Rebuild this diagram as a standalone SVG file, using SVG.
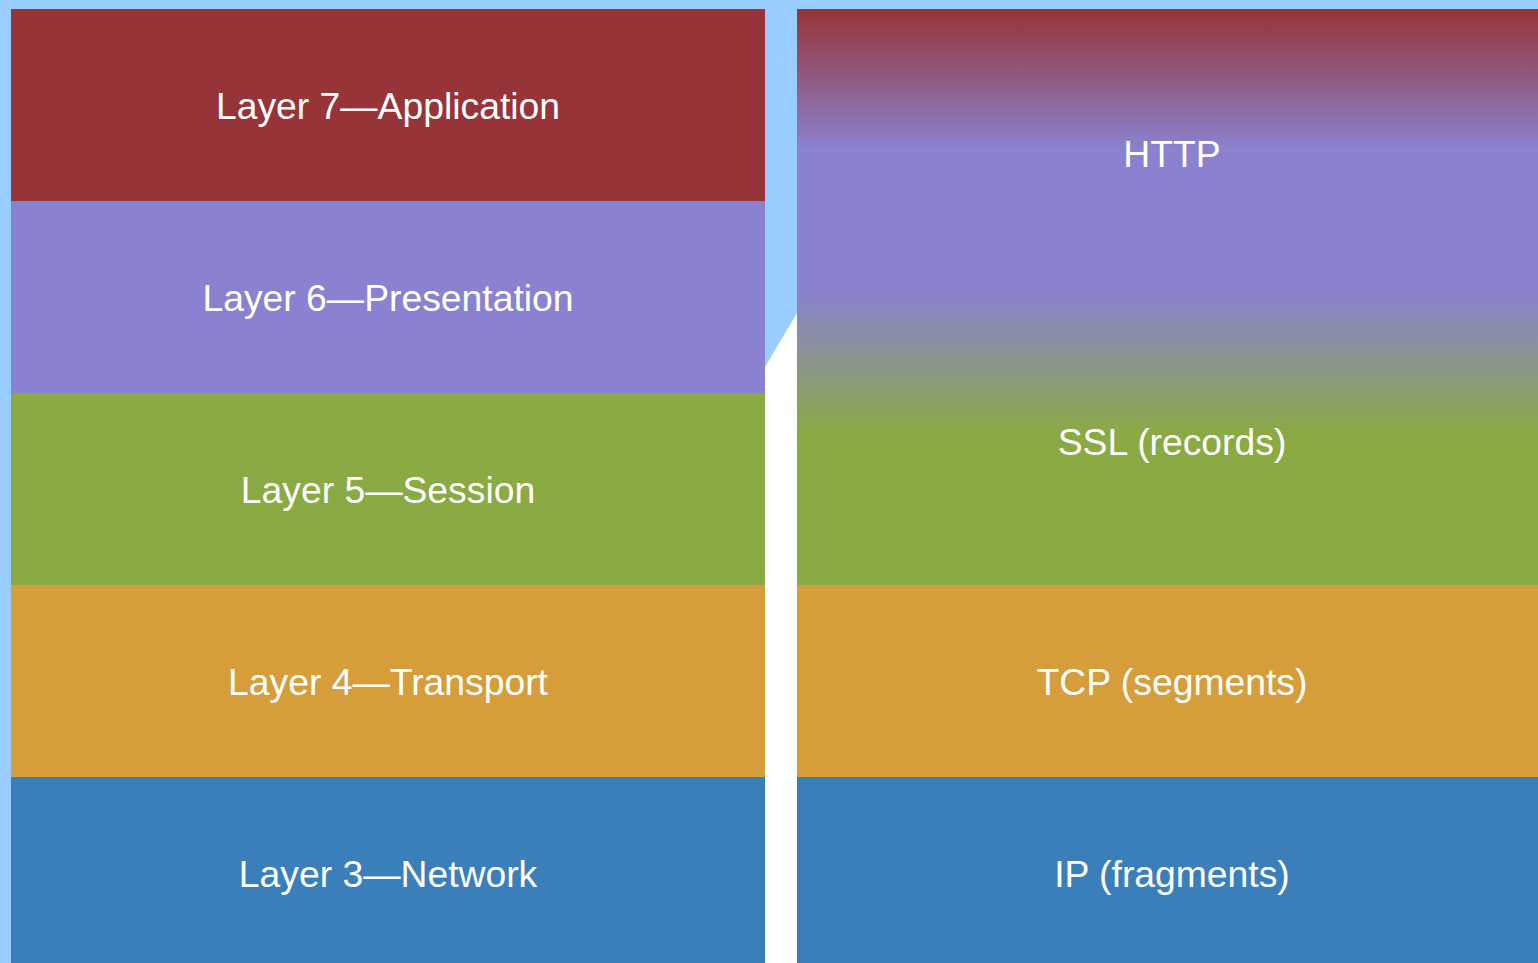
<svg xmlns="http://www.w3.org/2000/svg" width="1538" height="963" viewBox="0 0 1538 963">
<defs>
<linearGradient id="grad" x1="0" y1="9" x2="0" y2="585" gradientUnits="userSpaceOnUse">
<stop offset="0" stop-color="#963437"/>
<stop offset="0.245" stop-color="#8a82d0"/>
<stop offset="0.49" stop-color="#8a82d0"/>
<stop offset="0.74" stop-color="#8aaa44"/>
<stop offset="1" stop-color="#8aaa44"/>
</linearGradient>
</defs>
<style>
text{font-family:"Liberation Sans",Arial,sans-serif;font-size:37.3px;fill:#ffffff;text-anchor:middle}
.l7{fill:#963437}.l6{fill:#8a82d0}.l5{fill:#8aaa44}.l4{fill:#d69e3a}.l3{fill:#3a7fba}
</style>
<rect x="0" y="0" width="1538" height="963" fill="#99ccff"/>
<polygon points="765,367 797,313 797,963 765,963" fill="#ffffff"/>
<g id="layer7"><rect class="l7" x="11" y="9" width="754" height="192"/><text x="388" y="119">Layer 7—Application</text></g>
<g id="layer6"><rect class="l6" x="11" y="201" width="754" height="192"/><text x="388" y="311">Layer 6—Presentation</text></g>
<g id="layer5"><rect class="l5" x="11" y="393" width="754" height="192"/><text x="388" y="503">Layer 5—Session</text></g>
<g id="layer4"><rect class="l4" x="11" y="585" width="754" height="192"/><text x="388" y="695">Layer 4—Transport</text></g>
<g id="layer3"><rect class="l3" x="11" y="777" width="754" height="186"/><text x="388" y="887">Layer 3—Network</text></g>
<g id="http-ssl"><rect x="797" y="9" width="741" height="576" fill="url(#grad)"/><text x="1172" y="167">HTTP</text><text x="1172" y="455">SSL (records)</text></g>
<g id="tcp"><rect class="l4" x="797" y="585" width="741" height="192"/><text x="1172" y="695">TCP (segments)</text></g>
<g id="ip"><rect class="l3" x="797" y="777" width="741" height="186"/><text x="1172" y="887">IP (fragments)</text></g>
<g id="connectors"/>
</svg>
